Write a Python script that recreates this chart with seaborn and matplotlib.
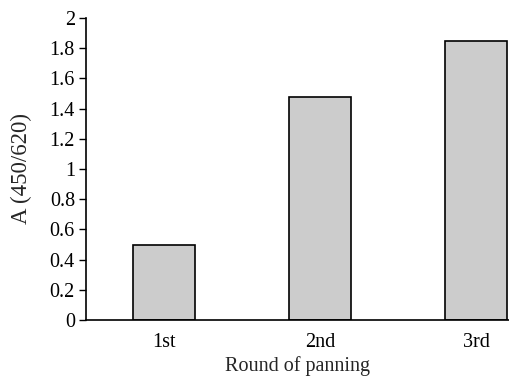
import matplotlib
matplotlib.use("Agg")
import matplotlib.pyplot as plt
import seaborn as sns
import pandas as pd

rounds = ["1st", "2nd", "3rd"]
values = [0.50, 1.48, 1.85]
yticks = [0, 0.2, 0.4, 0.6, 0.8, 1, 1.2, 1.4, 1.6, 1.8, 2]
ytick_labels = ["0", "0.2", "0.4", "0.6", "0.8", "1", "1.2", "1.4", "1.6", "1.8", "2"]

sns.set_style("white")
plt.rcParams['font.family'] = ['Liberation Serif', 'DejaVu Serif']

df = pd.DataFrame({"round": rounds, "value": values})
fig = plt.figure(figsize=(5.09, 3.76), dpi=100)
ax = fig.add_axes([86/509, 1-320/376, (509-86)/509, (320-18)/376])
sns.barplot(data=df, x="round", y="value", ax=ax, color="#cccccc",
            edgecolor="black", linewidth=1.2, width=0.40, saturation=1)
ax.set_xlim(-0.5, 2.21)
ax.set_ylim(0, 2)
ax.set_yticks(yticks)
ax.set_yticklabels(ytick_labels)
for s in ["top", "right"]:
    ax.spines[s].set_visible(False)
for s in ["left", "bottom"]:
    ax.spines[s].set_color("black")
    ax.spines[s].set_linewidth(1.2)
ax.tick_params(axis="y", left=True, length=5, width=1.0, direction="out", labelsize=14.5, pad=3, colors="black")
ax.tick_params(axis="x", bottom=False, labelsize=14.5, pad=6, colors="black")
ax.set_xlabel("Round of panning", fontsize=14.5)
ax.set_ylabel("A (450/620)", fontsize=16.5)
ax.xaxis.set_label_coords(0.5, -0.118)
ax.yaxis.set_label_coords(-0.128, 0.5)
fig.savefig("out.png", dpi=100)
